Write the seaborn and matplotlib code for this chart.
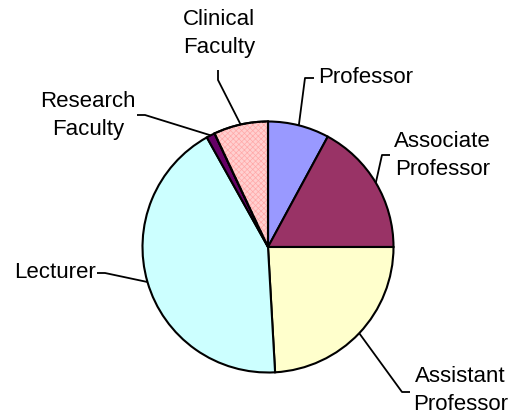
import numpy as np
import matplotlib
matplotlib.use("Agg")
import matplotlib.pyplot as plt
from matplotlib.patches import Wedge
import seaborn as sns

# faculty mix, share of total (%)
categories = ["Professor", "Associate\nProfessor", "Assistant\nProfessor",
              "Lecturer", "Research\nFaculty", "Clinical\nFaculty"]
shares = [7.9, 17.1, 24.1, 42.8, 1.1, 7.0]
colors = ["#9999FF", "#993366", "#FFFFCC", "#CCFFFF", "#660066", "#FFD0D0"]

sns.set_style("white")
plt.rcParams["font.family"] = ["Liberation Sans", "DejaVu Sans"]
plt.rcParams["hatch.linewidth"] = 0.5

W, H = 515, 415
fig = plt.figure(figsize=(W / 100, H / 100), dpi=100)
ax = fig.add_axes([0, 0, 1, 1])
ax.set_xlim(0, W)
ax.set_ylim(0, H)
ax.set_aspect("equal")
ax.axis("off")

cx, cy, r = 268, H - 247, 125.5
wedges, _ = ax.pie(shares, colors=colors, startangle=90, counterclock=False,
                   center=(cx, cy), radius=r, frame=True,
                   wedgeprops=dict(edgecolor="black", linewidth=1.5))
ax.axis("off")

# fine pink hatch on the clinical slice
cw = wedges[-1]
ax.add_patch(Wedge((cx, cy), r, cw.theta1, cw.theta2, facecolor="none",
                   edgecolor="#FFA8A8", hatch="xxxxxx", linewidth=0, zorder=cw.get_zorder() + 0.1))
ax.add_patch(Wedge((cx, cy), r, cw.theta1, cw.theta2, facecolor="none",
                   edgecolor="black", linewidth=1.5, zorder=cw.get_zorder() + 0.2))

# label text (x, top y in image px, ha) and leader tick (start, elbow)
label_pos = [(318, 67, "left"), (394, 131, "left"), (413, 366, "left"),
             (14, 262, "left"), (88, 91, "center"), (219, 9, "center")]
ticks = [((314, 78), (305, 78)), ((390, 155), (382, 155)), ((410, 392), (402, 392)),
         ((97, 273), (105, 273)), ((137, 115), (145, 115)), ((218, 70), (218, 80))]

for w, lab, (tx, ty, ha), (p0, p1) in zip(wedges, categories, label_pos, ticks):
    mid = np.deg2rad((w.theta1 + w.theta2) / 2)
    ex, ey = cx + r * np.cos(mid), cy + r * np.sin(mid)
    ax.plot([p0[0], p1[0], ex], [H - p0[1], H - p1[1], ey], color="black", lw=1.3,
            solid_capstyle="butt", zorder=5)
    ax.text(tx, H - ty, lab, ha=ha, va="top", multialignment="center",
            fontsize=16, linespacing=1.42, color="black")

fig.savefig("out.png", dpi=100)
